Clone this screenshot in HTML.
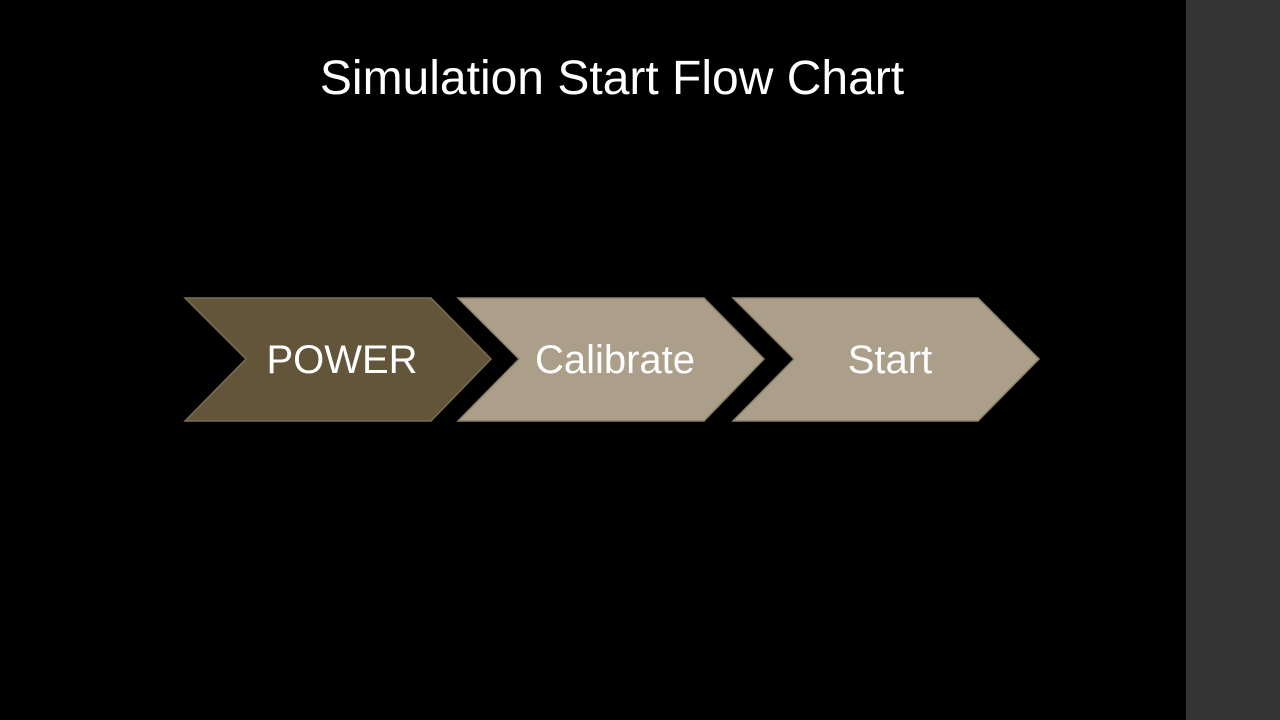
<!DOCTYPE html>
<html><head><style>
body{margin:0;width:1280px;height:720px;background:#000;overflow:hidden;font-family:"Liberation Sans",sans-serif}
</style></head><body>
<div style="position:absolute;left:1186px;top:0;width:94px;height:720px;background:#333"></div>
<svg width="1280" height="720" style="position:absolute;left:0;top:0">
<text x="612" y="94" fill="#fff" font-size="48" text-anchor="middle" font-family="Liberation Sans,sans-serif">Simulation Start Flow Chart</text>
<polygon points="185,298 431,298 491,359 431,421 185,421 246,359" fill="#62553a" stroke="#7a6d52" stroke-width="1.5"/>
<polygon points="458,298 704,298 764,359 704,421 458,421 519,359" fill="#ab9f89" stroke="#8a806e" stroke-width="1.5"/>
<polygon points="733,298 978,298 1039,359 978,421 733,421 794,359" fill="#ab9f89" stroke="#8a806e" stroke-width="1.5"/>
<g fill="#fff" font-size="40" text-anchor="middle" font-family="Liberation Sans,sans-serif">
<text x="342" y="373">POWER</text>
<text x="615" y="373">Calibrate</text>
<text x="890" y="373">Start</text>
</g>
</svg>
</body></html>
